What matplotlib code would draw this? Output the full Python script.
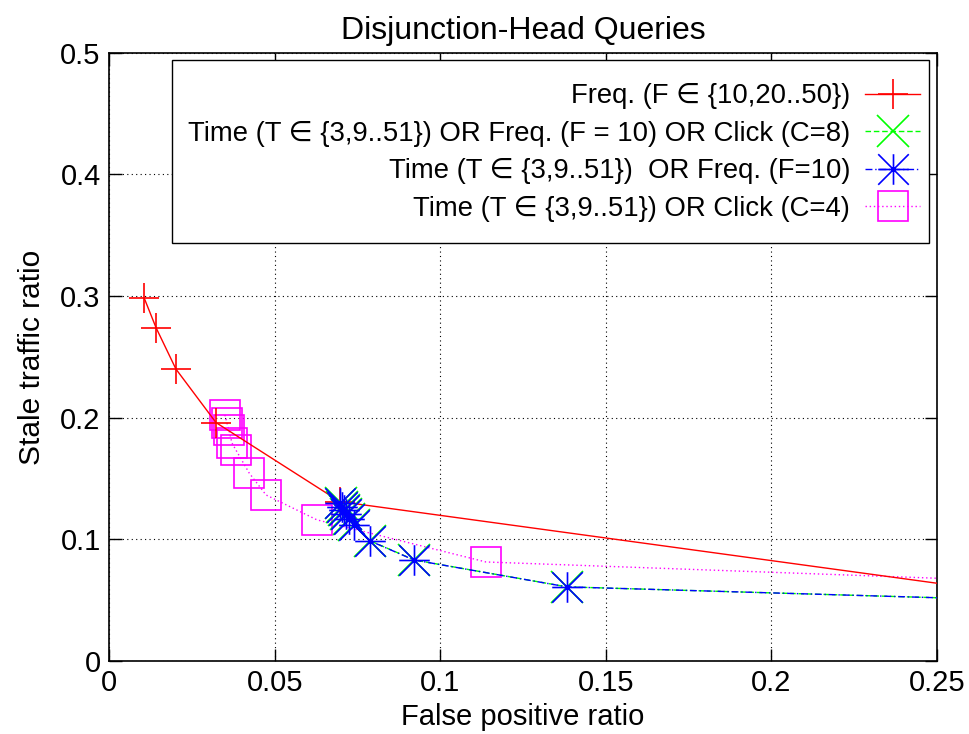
import matplotlib
matplotlib.use('Agg')
import matplotlib.pyplot as plt
from matplotlib.path import Path
from matplotlib.patches import Rectangle

# data (last point of each series lies past x=0.25)
freq_x = [0.0106, 0.0142, 0.0202, 0.0323, 0.0697, 0.30]
freq_y = [0.2985, 0.274, 0.240, 0.196, 0.131, 0.0453]

tfc_x = [0.0699, 0.0703, 0.0709, 0.0716, 0.0726, 0.0741, 0.0789, 0.0922, 0.1384, 0.30]
tfc_y = [0.130, 0.127, 0.124, 0.121, 0.117, 0.112, 0.0987, 0.083, 0.0609, 0.048]

tf_x = [0.0698, 0.0702, 0.0708, 0.0715, 0.0725, 0.0740, 0.0788, 0.0921, 0.1383, 0.30]
tf_y = [0.130, 0.127, 0.124, 0.121, 0.117, 0.112, 0.0987, 0.083, 0.0609, 0.048]

tc_x = [0.0350, 0.0356, 0.0362, 0.0371, 0.0383, 0.0423, 0.0474, 0.0628, 0.1138, 0.30]
tc_y = [0.2023, 0.1957, 0.190, 0.1793, 0.1735, 0.1546, 0.1365, 0.116, 0.0814, 0.0631]

labels = ['Freq. (F \u2208 {10,20..50})',
          'Time (T \u2208 {3,9..51}) OR Freq. (F = 10) OR Click (C=8)',
          'Time (T \u2208 {3,9..51})  OR Freq. (F=10)',
          'Time (T \u2208 {3,9..51}) OR Click (C=4)']

xticks = [0, 0.05, 0.1, 0.15, 0.2, 0.25]
xticklabels = ['0', '0.05', '0.1', '0.15', '0.2', '0.25']
yticks = [0, 0.1, 0.2, 0.3, 0.4, 0.5]
yticklabels = ['0', '0.1', '0.2', '0.3', '0.4', '0.5']

plt.rcParams['font.family'] = ['Liberation Sans', 'DejaVu Sans']

# gnuplot style asterisk: plus and cross on top of each other
star = Path([(-1, 0), (1, 0), (0, -1), (0, 1), (-1, -1), (1, 1), (-1, 1), (1, -1)],
            [Path.MOVETO, Path.LINETO] * 4)

fig = plt.figure(figsize=(9.7, 7.34), dpi=100)
ax = fig.add_axes([0.1124, 0.0995, 0.8536, 0.8285])

l1, = ax.plot(freq_x, freq_y, color='#ff0000', lw=1.0, marker='+', ms=22, mew=1.2, zorder=3)
l2, = ax.plot(tfc_x, tfc_y, color='#00ff00', lw=1.0, ls=(0, (4, 2)), marker='x', ms=23, mew=1.2, zorder=4)
l3, = ax.plot(tf_x, tf_y, color='#0000ff', lw=1.0, ls=(0, (5, 2, 1, 2)), marker=star, ms=22,
              mew=1.2, mfc='none', zorder=5)
l4, = ax.plot(tc_x, tc_y, color='#ff00ff', lw=1.0, ls=(0, (1, 2)), marker='s', ms=22, mew=1.2,
              mfc='none', zorder=2)

ax.set_xlim(0, 0.25)
ax.set_ylim(0, 0.5)
ax.set_xticks(xticks)
ax.set_xticklabels(xticklabels)
ax.set_yticks(yticks)
ax.set_yticklabels(yticklabels)
ax.tick_params(direction='in', length=9, width=1, top=True, right=True, labelsize=21, pad=6)
ax.grid(True, color='black', ls=(0, (1, 3)), lw=0.8)
for s in ax.spines.values():
    s.set_linewidth(1.2)

ax.set_title('Disjunction-Head Queries', fontsize=23, pad=10)
ax.set_xlabel('False positive ratio', fontsize=21, labelpad=4)
ax.set_ylabel('Stale traffic ratio', fontsize=21.5, labelpad=10)

# key box drawn separately: gnuplot leaves more room above/below than at the sides
box = Rectangle((0.0761, 0.6875), 0.9142, 0.301, transform=ax.transAxes,
                facecolor='white', edgecolor='black', lw=1.0, zorder=6)
ax.add_patch(box)

leg = ax.legend([l1, l2, l3, l4], labels, loc='upper right', bbox_to_anchor=(0.9915, 0.9659),
                borderaxespad=0, markerfirst=False, fontsize=19.8, handlelength=2.0,
                handletextpad=0.55, labelspacing=0.42, frameon=False, borderpad=0.35)
leg.set_zorder(7)

fig.savefig('out.png', dpi=100)
